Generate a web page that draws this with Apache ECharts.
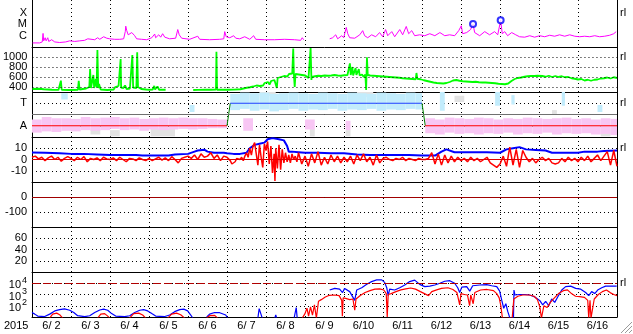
<!DOCTYPE html>
<html>
<head>
<meta charset="utf-8">
<script src="https://cdn.jsdelivr.net/npm/echarts@6/dist/echarts.min.js"></script>
<style>
html,body{margin:0;padding:0;background:#fff;overflow:hidden}
#chart{width:633px;height:334px}
</style>
</head>
<body>
<div id="chart"></div>
<script>
// ---------------- labels / ticks ----------------
const yearLabel = '2015';
const dayLabels = ['6/ 2','6/ 3','6/ 4','6/ 5','6/ 6','6/ 7','6/ 8','6/ 9','6/10','6/11','6/12','6/13','6/14','6/15','6/16'];
const xrayTickVals = [1e-6, 1e-5, 1e-4];
const xrayTickNames = ['C', 'M', 'X'];
const speedTicks = [400, 600, 800, 1000];
const sectorTickVals = [90, 270];
const sectorTickNames = ['A', 'T'];
const sectorMid = [180];
const imfTicks = [-10, 0, 10];
const dstTicks = [-100, 0];
const kpTicks = [20, 40, 60];
const fluxTickExps = [2, 3, 4];
const fluxAlert = [1e4];
const rightMarkValues = [1e-4, 1000, 270, 10, null, null, 1e4];
const rightMarkText = 'rl';

// ---------------- data (hours since 6/2 00:00) ----------------
const xray = [[0.4,2.3e-7],[4.7,2.3e-7],[6.3,2.8e-7],[6.8,1.6e-6],[7.2,3.5e-7],[8.1,6.6e-7],[8.7,3.5e-7],[9.7,6.6e-7],[10.3,3.1e-7],[12.1,4.4e-7],[14,2.8e-7],[17,2.5e-7],[20.7,2.8e-7],[23.2,3.5e-7],[26.3,3.1e-7],[29.4,3.5e-7],[32.4,3.9e-7],[34.3,5.3e-7],[35.5,3.9e-7],[38.6,4.4e-7],[40.4,6.6e-7],[41.7,4.8e-7],[44.1,8.1e-7],[44.7,1.0e-6],[46,6e-7],[47.8,5.3e-7],[50.9,4.8e-7],[54,4.8e-7],[56.4,5.3e-7],[57.4,2.3e-6],[57.7,7e-6],[58.3,2.8e-6],[59.2,1.2e-6],[60.1,8.1e-7],[61.4,1.9e-6],[62.3,2.6e-6],[63.2,1.0e-6],[64.4,5.3e-7],[67.5,4.8e-7],[70.6,4.4e-7],[73.7,6.6e-7],[75.5,1.4e-6],[76.1,6.6e-7],[78,1.2e-6],[79.2,7.4e-7],[80.4,1.5e-6],[81.7,7.4e-7],[84.7,5.3e-7],[88.4,6e-7],[89.7,3.5e-6],[90.6,1.2e-6],[92.1,6e-7],[97,4.8e-7],[102,9e-7],[103.2,4.8e-7],[109.3,4.4e-7],[115.5,4.8e-7],[118,5.3e-7],[118.6,2.3e-6],[119.5,8.1e-7],[121.7,6.6e-7],[124.1,1.0e-6],[125.4,6e-7],[127.8,5.3e-7],[130.9,8.1e-7],[134,4.8e-7],[136.4,1.0e-6],[137.7,4.8e-7],[143.2,4.4e-7],[149.3,4.4e-7],[155.5,4.8e-7],[161.6,4.4e-7],[165.3,3.9e-7],[166.3,6.6e-7],[167.2,4.4e-7],[168,null],
[183.2,5.3e-7],[185,6.6e-7],[186.9,1.2e-6],[188.1,5.3e-7],[190.6,1.0e-6],[191.8,6.6e-7],[193.4,5.4e-6],[194.3,1.5e-6],[195.5,6.6e-7],[198.6,6e-7],[201.7,1.2e-6],[203.5,2.8e-6],[204.7,1.0e-6],[206.6,6.6e-7],[209,1.2e-6],[211.5,8.1e-7],[213.9,1.9e-6],[215.8,8.1e-7],[217.6,3.5e-6],[218.9,1.0e-6],[221.4,2.3e-6],[223.2,8.1e-7],[226.3,3.5e-6],[228.1,1.2e-6],[230.3,6.6e-6],[231.8,1.5e-6],[233.7,2.8e-6],[235.5,1.0e-6],[238.6,1.2e-6],[241.7,1.0e-6],[244.8,1.5e-6],[247.9,1.0e-6],[251,1.9e-6],[254,1.0e-6],[257,1.2e-6],[260.1,1.0e-6],[262.6,2.8e-6],[264.2,7.6e-6],[265,1.5e-6],[267.5,1.9e-6],[269.9,3.5e-6],[271.4,1.1e-5],[272.4,1.9e-6],[275.5,1.0e-6],[278.6,2.3e-6],[281.6,1.2e-6],[284.7,2.3e-6],[286.6,1.2e-6],[288.4,2.3e-5],[289.4,1.5e-6],[290.9,2.3e-6],[292.7,1.0e-6],[295.2,1.9e-6],[297.7,1.2e-6],[300,8.1e-7],[303.2,7.4e-7],[306.3,1.0e-6],[309.3,7.4e-7],[312.4,1.0e-6],[315.5,8.1e-7],[318.6,1.1e-6],[321.6,9e-7],[324.7,1.2e-6],[327.8,9e-7],[330.9,1.2e-6],[334,9e-7],[337,8.1e-7],[340.1,9e-7],[343.2,8.1e-7],[346.3,1.0e-6],[349.3,8.1e-7],[352.4,9e-7],[355.5,1.1e-6],[356.7,1.6e-6],[358,1.5e-6],[359.5,2.3e-6]];
const flarePeaks = [[271.4,1.1e-5],[288.4,2.3e-5]];

const speed = [[0,360],[4,365],[7,355],[8,345],[12,345],[16,342],[17,345],[17.5,526],[18,345],[22,340],
[24,340],[28,345],[28.5,525],[29,350],[30,380],[31,360],[32,395],[33,370],[35,400],[35.5,760],[36,380],[37,420],[37.5,640],[38,380],[39,560],[39.5,400],[40,1140],[40.5,380],[41,460],[42,350],[44,345],[46,340],
[48,345],[50,350],[51,400],[52,360],[53,420],[54,380],[54.3,960],[54.6,390],[55,400],[56,380],[57,430],[58,360],[60,370],[61,380],[61.5,1040],[62,390],[63,430],[64,380],[64.5,1093],[65,400],[66,420],[67,360],[68,370],[70,350],
[72,345],[74,350],[75,420],[75.5,350],[77,410],[78,345],[80,345],[81,370],[82,345],[82.5,null],
[99,340],[102,342],[106,345],[110,345],[113,350],[113.3,1106],[113.7,345],[116,345],
[120,345],[124,348],[128,355],[130,370],[132,385],[134,395],[135,375],[136,410],[137,390],[138,430],[139,400],[140,420],[141,460],[142,430],[143,480],[144,450],
[145,500],[146,450],[147,520],[148,480],[149,540],[150,560],[150.5,380],[151,580],[152,540],[153,600],[154,570],[155,620],[156,640],[157,610],[158,660],[159,640],[160,670],[160.6,1170],[161,650],[161.5,400],[162,660],[163,630],[164,650],[165,620],[166,640],[167,610],[168,630],
[169,600],[170,580],[171,600],[171.3,1180],[171.8,540],[172,600],[173,640],[174,615],[175,645],[176,625],[177,650],[178,620],[179,645],[180,630],[181,655],[182,625],[183,650],[184,630],[185,655],[186,640],[187,660],[188,630],[189,650],[190,625],[191,645],[192,635],
[193,660],[194,640],[195,620],[195.5,873],[196,640],[197,800],[197.5,630],[198,650],[199,780],[199.5,640],[200,620],[201,760],[201.5,630],[202,655],[203,650],[204,600],[205,650],[205.5,340],[206,993],[206.5,640],[207,655],[208,630],[209,650],[210,625],[211,645],[212,620],[213,640],[214,615],[215,635],[216,610],
[217,630],[218,605],[219,625],[220,600],[221,620],[222,595],[223,610],[224,590],[225,605],[226,585],[227,600],[228,575],[229,595],[230,570],[231,590],[232,565],[233,585],[234,560],[235,575],[236,555],[236.5,680],[237,565],[238,545],[239,555],[240,525],
[241,535],[242,510],[243,520],[244,495],[245,505],[246,470],[247,490],[248,460],[249,480],[250,455],[251,475],[252,450],[253,470],[254,455],[255,480],[256,470],[257,500],[258,505],[259,530],[260,520],[261,540],[262,510],[263,525],[264,500],
[265,515],[266,490],[267,510],[268,495],[269,505],[270,485],[271,500],[272,490],[273,505],[274,480],[275,495],[276,475],[277,490],[278,470],[279,490],[280,470],[281,485],[282,465],[283,480],[284,460],[285,475],[286,455],[287,465],[288,450],
[289,460],[290,440],[291,455],[292,445],[293,470],[294,480],[295,520],[296,530],[297,560],[298,555],[299,580],[300,565],[301,590],[302,580],[303,605],[304,590],[305,615],[306,600],[307,620],[308,595],[309,620],[310,600],[311,625],[312,605],
[314,620],[316,605],[318,625],[320,600],[322,620],[324,600],[326,615],[328,595],[330,600],[332,575],[334,565],[336,550],[338,560],[340,530],[342,545],[344,525],[346,545],[348,550],[350,570],[352,575],[354,590],[356,570],[358,595],[360,580]];

// IMF sector (degrees): step line
const sectorTimes = [0, 120, 122, 240, 242, 360];
const sectorVals  = [90, 90, 270, 270, 90, 90];
// phi clouds: [hStart, hEnd, lowDeg, highDeg]
const phiGray = [[36,42,20,70],[48,54,5,55],[73,88,5,70],[140,150,330,360],[171,174,5,70],[193,196,5,55],[200,210,320,360],[260,266,280,330],[320,323,180,215],[350,356,5,90]];
const phiAway = [[0,6,35,140],[6,12,45,160],[12,18,40,150],[18,24,50,150],[24,30,45,145],[30,36,55,160],[36,42,50,150],[42,48,55,155],[48,54,65,160],[54,60,55,150],[60,66,60,155],[66,72,50,145],[72,78,60,150],[78,84,55,155],[84,90,60,150],[90,96,65,155],[96,102,60,150],[102,108,65,150],[108,114,70,145],[114,120,70,140],
[130,136,50,150],[168,174,60,140],[193,196,55,130],
[242,248,30,150],[248,254,20,140],[254,260,35,155],[260,266,25,150],[266,272,30,145],[272,278,20,155],[278,284,30,150],[284,290,25,140],[290,296,35,150],[296,302,20,145],[302,308,30,155],[308,314,25,150],[314,320,35,145],[320,326,20,150],[326,332,30,155],[332,338,25,145],[338,344,30,150],[344,350,20,140],[350,356,25,150],[356,360,15,145]];
const phiToward = [[18,22,300,350],[97,100,200,256],
[122,128,215,345],[128,134,225,355],[134,140,210,350],[140,146,220,355],[146,152,205,345],[152,158,215,350],[158,164,225,355],[164,170,210,350],[170,176,220,345],[176,182,215,355],[182,188,225,350],[188,194,210,345],[194,200,220,355],[200,206,215,350],[206,212,225,345],[212,218,210,355],[218,224,220,350],[224,230,215,345],[230,236,225,355],[236,240,220,350],
[251,254,210,360],[285,288,250,360],[295,297,260,335],[326,328,250,360],[348,351,200,256]];

const bt = [[0,6.2],[8,6],[17,5.5],[24,5],[32,5],[40,4.5],[48,4],[56,4],[64,4],[68,3.5],[76,3.5],[84,3.5],[88,4.5],[96,5],[100,7],[102,8],[106,8.7],[108,7],[112,6],[118,6],[120,5.5],[124,5],[128,5],[132,6],[134,10],[137,13],[140,14],[143,15],[145,18],[148,19],[152,18],[155,17],[157,12],[158,7],[160,7],[164,6.5],[168,6],[176,6],[184,5.5],[192,5.5],[200,4.5],[208,4],[216,4],[224,4],[232,4],[240,3.5],[248,3.5],[252,7],[255,9],[260,6.5],[272,6.5],[280,6.5],[288,6],[292,9],[296,10],[300,11],[304,9],[310,8.5],[316,8],[320,6],[330,6],[336,6],[340,7],[348,7],[352,7.5],[360,8]];

const bz = [[0,2],[2,3],[4,0.5],[6,2],[8,-1],[10,1.5],[12,3],[14,0],[16,2],[18,-1.5],[20,1],[22,2.5],
[24,1],[26,-1],[28,2],[30,0],[32,2.5],[34,-2],[36,1],[38,0],[40,1.5],[42,-1],[44,2],[46,0.5],
[48,0],[50,1.5],[52,-1],[54,2],[56,0],[58,-2],[60,1],[62,0.5],[64,-1],[66,1.5],[68,0],[70,-1],
[72,1],[74,-1],[76,0.5],[78,2],[80,-0.5],[82,1.5],[84,-1],[86,2.5],[88,0],[90,-3],[92,1],[94,2],
[96,3],[98,1],[100,4],[102,0],[104,5],[106,2],[108,3],[110,6],[112,1],[114,4],[116,-1],[118,3],
[120,2],[121,3],[122,-1],[123,-4],[124,-5],[125,-2],[126,1],[128,0],[129,2],[130,-1],[131,3],[132,6],[133,2],[134,10],[135,4],[136,12],[137,15],[138,5],[139,-5],[140,13],[141,2],[142,-7],[143,14],[144,8],[145,16],[146,-4],[147,12],[148,-12],[149,5],[149.5,-19],[150,10],[151,-8],[152,13],[153,-9],[154,9],[155,-3],[156,6],[157,-2],[158,4],[159,-3],[160,5],[161,0],[162,3],[163,-2],[164,6],[166,-4],[168,3],
[170,-6],[172,5],[174,-3],[176,7],[178,-5],[180,2],[182,-4],[184,4],[186,-2],[188,3],[190,-3],[192,2],
[194,-2],[196,3],[198,-4],[200,4],[202,-1],[204,5],[206,-2],[208,2],[210,-5],[212,4],[214,-3],[216,1],
[218,2],[220,0],[222,-1],[224,1],[226,0],[228,2],[230,-1],[232,1],[234,0],[236,-1],[238,1],[240,0],
[242,0],[244,1],[246,6],[248,-4],[250,5],[252,-5],[254,4],[256,-3],[258,3],[260,-2],[262,2],[264,-1],
[266,1],[268,-2],[270,2],[272,-1],[274,1],[276,-2],[278,0],[280,2],[282,-3],[284,-5],[286,-7],[288,-4],
[290,3],[292,-6],[294,11],[296,-5],[298,9],[300,-7],[302,8],[304,2],[306,-2],[308,1],[310,-3],[312,0],
[314,2],[316,-1],[318,1],[320,-3],[322,-4],[324,-3],[326,1],[328,-2],[330,2],[332,-1],[334,1],[336,-2],
[338,2],[340,-1],[342,3],[344,-2],[346,1],[348,4],[350,-1],[352,3],[354,7],[356,-5],[358,8],[360,-6]];

const dst = [];

const fluxBlue = [[0,25],[1.7,18],[3.5,12],[7.8,11],[10.9,18],[14,35],[17,45],[20,52],[23.2,40],[25.7,25],[28.1,13],[32.4,11],[35.5,13],[38.6,25],[41.7,42],[44.1,50],[46.6,40],[49,20],[51.5,12],[57,11],[60.1,13],[63.2,25],[66.3,40],[68.7,45],[71.2,35],[73.7,20],[76.1,12],[81.7,11],[84.7,15],[87.8,30],[90.9,45],[93.4,50],[95.8,35],[97.7,15],[98.9,8],[99.5,null],
[107.5,10],[109.3,18],[112.4,25],[115.5,24],[119.2,15],[120.4,8],[121,null],
[139,8],[139.8,55],[140.8,40],[141.7,8],[142,null],[149.4,8],[150,15],[150.6,8],[151,null],[161.3,8],[162.6,70],[163.2,8],[164,null],
[183.2,2500],[186.3,3500],[189.3,3000],[191.1,1500],[192.4,3500],[195.5,1800],[198.6,300],[199.8,2500],[202.9,4000],[206,8000],[209,14000],[212.1,20000],[215.2,20000],[217,12000],[218.3,4000],[219.2,800],[220.1,3000],[223.2,2500],[226.3,4000],[229.4,7000],[232.4,14000],[235.5,19000],[238.6,8000],[241.7,5000],[244.8,5500],[247.9,7000],[251,10000],[254,15000],[257.1,17000],[260.1,10000],[262,4000],[263.2,1500],[264.5,4500],[267.5,5000],[269.4,2000],[271.2,6000],[275.5,7000],[279.8,7500],[282.9,6000],[286,5000],[287.8,2000],[289.1,300],[290.3,60],[291.6,150],[292.8,30],[294.1,8],[296.3,8],[296.6,2500],[297.2,900],[300,1000],[303.2,1000],[306.3,900],[309.4,600],[312.4,300],[314.3,120],[316.1,250],[318,100],[319.8,400],[321.7,200],[323.5,600],[326,2500],[328.4,5000],[331.5,5500],[334.6,3500],[337.7,3000],[340.7,1500],[342.6,800],[344.4,1800],[346.3,1200],[348.1,2500],[350.6,4000],[353,5500],[355.5,5500],[359.8,5500]];

const fluxRed = [[10.9,8],[12.7,18],[15.2,22],[17,16],[18.9,8],[19.5,null],[40.4,8],[42.3,18],[44.7,20],[46.6,12],[47.8,8],[48.5,null],[60,8],[62.6,20],[65.7,22],[68.1,15],[70,8],[71,null],[83.5,8],[85.9,18],[89,22],[91.5,16],[94,8],[95,null],[107.5,8],[109.3,13],[112.4,14],[114.3,8],[115,null],
[166.3,8],[168,20],[169.2,60],[170.2,12],[171.4,80],[172.6,15],[173.8,120],[175,8],[176.3,250],[178,350],[180.5,600],[183,850],[186,900],[189,800],[190.6,300],[191,12],[191.5,500],[193,450],[195.5,350],[197.5,400],[198.6,40],[199.4,400],[202,800],[205,1500],[208,2200],[211,3000],[214,3200],[216.5,2500],[218,1200],[218.6,10],[219.2,1000],[221,1200],[224,1800],[227,2600],[230,3200],[233,3800],[236,3000],[239,1800],[241.5,1200],[244,800],[246,1800],[249,2600],[252,3500],[256,4000],[259,2800],[261.5,1500],[263.2,120],[264,1200],[266,1000],[268,900],[269.3,100],[270,900],[271.5,150],[272.5,1500],[276,2500],[280,2800],[284,2200],[286,1200],[287.5,500],[288.5,100],[289.5,8],[295.5,8],[296.5,400],[299,700],[302,900],[306,900],[309,700],[311,350],[312.5,80],[313.5,8],[315,100],[317,70],[319,200],[321.5,500],[324,1200],[327,2200],[329.5,2600],[332,1200],[334.5,700],[337,650],[340,550],[342,300],[342.6,8],[343.4,300],[344,8],[345,8],[346,400],[348.5,1000],[351,1800],[353.5,2500],[356,1400],[358,1000],[360,800]];

// ---------------- chart ----------------
const FONT = '"Liberation Sans", Arial, Helvetica, sans-serif';
const LBL = {fontSize: 11, color: '#000', fontFamily: FONT};
const panels = [[0,47],[47,92],[92,137],[137,182],[182,227],[227,272],[272,317]];
const dotted = {color: '#000', width: 1, type: [1, 3]};

const grid = panels.map(p => ({left: 32, right: 16, top: p[0], height: p[1] - p[0]}));
grid.push({left: 32, right: 16, top: 300, height: 17});

const exp10 = v => Math.round(Math.log10(v));
const yBase = [
  {type: 'log', logBase: 10, min: 1e-7, max: 1.45e-3},
  {type: 'value', min: 300, max: 1200, interval: 100},
  {type: 'value', min: 0, max: 360, interval: 90},
  {type: 'value', min: -20, max: 20, interval: 10},
  {type: 'value', min: -200, max: 100, interval: 100},
  {type: 'value', min: 0, max: 80, interval: 20},
  {type: 'log', logBase: 10, min: 10, max: 1e5}
];
const leftFmt = [
  v => { const i = xrayTickVals.findIndex(t => exp10(t) === exp10(v)); return i >= 0 ? xrayTickNames[i] : ''; },
  v => speedTicks.includes(v) ? String(v) : '',
  v => { const i = sectorTickVals.indexOf(v); return i >= 0 ? sectorTickNames[i] : ''; },
  v => imfTicks.includes(v) ? String(v) : '',
  v => dstTicks.includes(v) ? String(v) : '',
  v => kpTicks.includes(v) ? String(v) : '',
  v => { const e = exp10(v); return fluxTickExps.includes(e) ? '{b|10}{s|' + e + '}' : ''; }
];
const showSplit = [false, false, true, true, true, true, true];
const isLog = [true, false, false, false, false, false, true];
const rightFmt = rightMarkValues.map((m, i) => v => {
  if (m == null) return '';
  const hit = isLog[i] ? exp10(v) === exp10(m) : v === m;
  return hit ? rightMarkText : '';
});

const yAxis = [];
yBase.forEach((b, i) => yAxis.push(Object.assign({}, b, {
  gridIndex: i, position: 'left',
  axisLine: {show: true, onZero: false, lineStyle: {color: '#000', width: 1}},
  axisTick: {show: false},
  splitLine: {show: showSplit[i], lineStyle: dotted},
  axisLabel: Object.assign({}, LBL, {margin: 5, formatter: leftFmt[i],
    rich: {b: {fontSize: 11, fontFamily: FONT, color: '#000', verticalAlign: 'bottom'},
           s: {fontSize: 9, fontFamily: FONT, color: '#000', verticalAlign: 'bottom', padding: [0, 0, 6, 1]}}})
})));
yBase.forEach((b, i) => yAxis.push(Object.assign({}, b, {
  gridIndex: i, position: 'right',
  axisLine: {show: true, onZero: false, lineStyle: {color: '#000', width: 1}},
  axisTick: {show: false},
  splitLine: {show: false},
  axisLabel: Object.assign({}, LBL, {margin: 3, formatter: rightFmt[i]})
})));
yAxis.push({gridIndex: 7, type: 'value', show: false});

const xAxis = panels.map((p, i) => ({
  type: 'value', gridIndex: i, min: 0, max: 360, interval: 24,
  axisLine: {show: true, onZero: false, lineStyle: {color: '#000', width: 1}},
  axisTick: {show: false}, axisLabel: {show: false},
  splitLine: {show: true, lineStyle: dotted}
}));
xAxis.push({type: 'category', gridIndex: 7, position: 'bottom', data: dayLabels, boundaryGap: true,
  axisLine: {show: false}, axisTick: {show: false}, splitLine: {show: false},
  axisLabel: Object.assign({}, LBL, {interval: 0, margin: 3})});

const lineS = (gi, data, color, width, extra) => Object.assign({
  type: 'line', xAxisIndex: gi, yAxisIndex: gi, data: data, showSymbol: false, symbol: 'none',
  lineStyle: {color: color, width: width}, itemStyle: {color: color}, animation: false, silent: true, connectNulls: false
}, extra || {});
const mark = (vals, style) => ({silent: true, symbol: ['none', 'none'], label: {show: false}, animation: false,
  lineStyle: style, data: vals.map(v => ({yAxis: v}))});
const band = (data, color) => ({
  type: 'custom', xAxisIndex: 2, yAxisIndex: 2, data: data, silent: true, animation: false, clip: true,
  encode: {x: [0, 1], y: [2, 3]},
  renderItem: (params, api) => {
    const a = api.coord([api.value(0), api.value(3)]);
    const b = api.coord([api.value(1), api.value(2)]);
    return {type: 'rect', shape: {x: a[0], y: a[1], width: b[0] - a[0], height: b[1] - a[1]}, style: {fill: color}};
  }
});

const series = [];
series.push(lineS(0, xray, '#ff00ff', 1, {markLine: mark(xrayTickVals, dotted)}));
series.push({type: 'scatter', xAxisIndex: 0, yAxisIndex: 0, data: flarePeaks, symbol: 'emptyCircle', symbolSize: 6,
  itemStyle: {color: '#0000ff', borderColor: '#0000ff', borderWidth: 1}, silent: true, animation: false, z: 5});
series.push(lineS(1, speed, '#00ff00', 1.8, {markLine: mark(speedTicks, dotted)}));
series.push(band(phiGray, '#e2e2e2'));
series.push(band(phiAway, '#f8c6f4'));
series.push(band(phiToward, '#c2ecfc'));
for (let i = 0; i < sectorTimes.length - 1; i++) {
  const same = sectorVals[i] === sectorVals[i + 1];
  const col = same ? (sectorVals[i] > 180 ? '#2040ff' : '#ff0000') : '#008000';
  const extra = i === 0 ? {markLine: mark(sectorMid, {color: '#707070', width: 1, type: 'solid'})} : {};
  series.push(lineS(2, [[sectorTimes[i], sectorVals[i]], [sectorTimes[i + 1], sectorVals[i + 1]]], col, 1, Object.assign({z: 4}, extra)));
}
series.push(lineS(3, bt, '#0000ff', 2));
series.push(lineS(3, bz, '#ff0000', 1.5, {markLine: mark([0], {color: '#dd0000', width: 1, type: 'solid'})}));
series.push(lineS(4, dst, '#a00000', 1, {markLine: mark([0], {color: '#a00000', width: 1, type: 'solid'})}));
series.push(lineS(6, fluxBlue, '#0000ff', 1.2, {markLine: mark(fluxAlert, {color: '#b00000', width: 1, type: [8, 3]})}));
series.push(lineS(6, fluxRed, '#ff0000', 1.2));

const option = {
  animation: false,
  backgroundColor: '#ffffff',
  textStyle: {fontFamily: FONT},
  grid: grid, xAxis: xAxis, yAxis: yAxis, series: series,
  graphic: [
    {type: 'text', left: 4, top: 320, style: {text: yearLabel, font: '11px "Liberation Sans", Arial', fill: '#000'}},
    {type: 'line', shape: {x1: 621, y1: 333, x2: 632, y2: 322}, style: {stroke: '#9a9a9a', lineWidth: 1}},
    {type: 'line', shape: {x1: 625, y1: 333, x2: 632, y2: 326}, style: {stroke: '#9a9a9a', lineWidth: 1}},
    {type: 'line', shape: {x1: 629, y1: 333, x2: 632, y2: 330}, style: {stroke: '#9a9a9a', lineWidth: 1}}
  ]
};
const chart = echarts.init(document.getElementById('chart'));
chart.setOption(option);
</script>
</body>
</html>
